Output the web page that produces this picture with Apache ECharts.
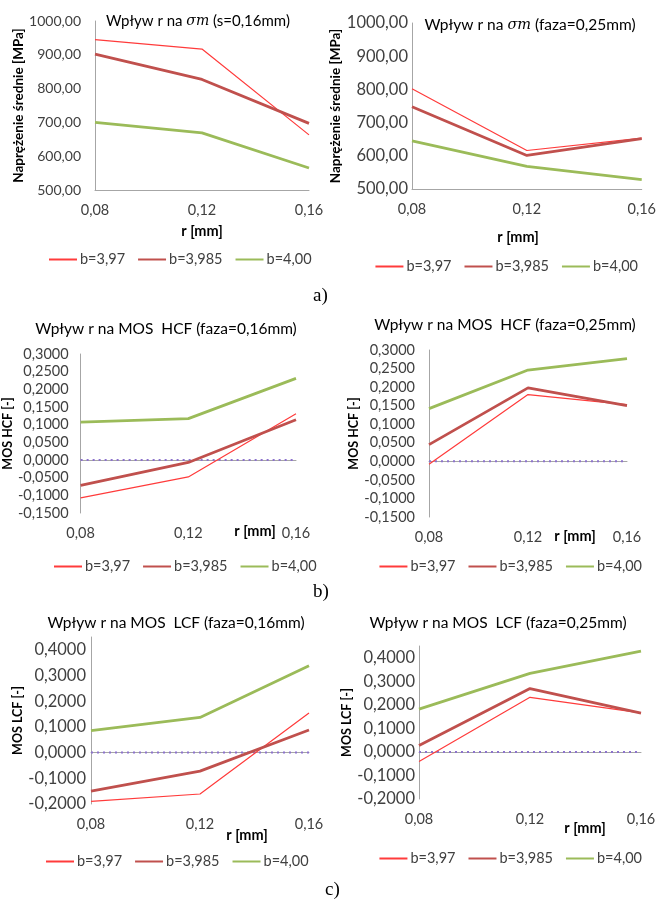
<!DOCTYPE html>
<html>
<head>
<meta charset="utf-8">
<script src="https://cdn.jsdelivr.net/npm/echarts@6/dist/echarts.min.js"></script>
<style>
  html, body { margin: 0; padding: 0; background: #ffffff; }
  #chart { width: 659px; height: 899px; }
</style>
</head>
<body>
<div id="chart"></div>
<script>
// ---- Data ----
const rCategories = ['0,08', '0,12', '0,16'];
const seriesNames = ['b=3,97', 'b=3,985', 'b=4,00'];

// a) sigma_m
const sigmaS016_b397  = [945, 917, 663];
const sigmaS016_b3985 = [902, 827, 697];
const sigmaS016_b400  = [700, 669, 565];
const sigmaF025_b397  = [802, 616, 653];
const sigmaF025_b3985 = [748, 601, 652];
const sigmaF025_b400  = [645, 568, 528];

// b) MOS HCF
const hcfF016_b397  = [-0.107, -0.048, 0.131];
const hcfF016_b3985 = [-0.072, -0.007, 0.114];
const hcfF016_b400  = [0.107, 0.117, 0.231];
const hcfF025_b397  = [-0.008, 0.180, 0.153];
const hcfF025_b3985 = [0.045, 0.198, 0.150];
const hcfF025_b400  = [0.142, 0.246, 0.277];

// c) MOS LCF
const lcfF016_b397  = [-0.190, -0.161, 0.154];
const lcfF016_b3985 = [-0.150, -0.072, 0.088];
const lcfF016_b400  = [0.086, 0.137, 0.338];
const lcfF025_b397  = [-0.041, 0.232, 0.166];
const lcfF025_b3985 = [0.027, 0.269, 0.165];
const lcfF025_b400  = [0.182, 0.334, 0.428];

const zeroLine = [0, 0, 0];

// ---- Styling ----
const FONT = 'Lato, "Noto Sans", sans-serif';
const TXT = '#404040';
const AXIS = '#A6A6A6';
const COLORS = ['#FF3B3B', '#C0504D', '#9BBB59'];
const WIDTHS = [1.2, 2.8, 2.8];

const panels = [
  { title: ['Wpływ r na ', 'σm', ' (s=0,16mm)'], tx: 198, ty: 21, ts: 15,
    grid: { left: 95, right: 350, top: 21, bottom: 709 },
    y: { min: 500, max: 1000, interval: 100, dec: 2, name: 'Naprężenie średnie [MPa]', gap: 66, lm: 14, fs: 14, ns: 13.5 },
    xName: [202, 231], legend: { left: 48, y: 260 },
    data: [sigmaS016_b397, sigmaS016_b3985, sigmaS016_b400], zero: false },
  { title: ['Wpływ r na ', 'σm', ' (faza=0,25mm)'], tx: 530, ty: 25, ts: 15.5,
    grid: { left: 412, right: 14, top: 23, bottom: 710 },
    y: { min: 500, max: 1000, interval: 100, dec: 2, name: 'Naprężenie średnie [MPa]', gap: 67, lm: 4, fs: 16.5, ns: 13.5 },
    xName: [518, 237], legend: { right: 21, y: 267 },
    data: [sigmaF025_b397, sigmaF025_b3985, sigmaF025_b400], zero: false },
  { title: ['Wpływ r na MOS  HCF (faza=0,16mm)'], tx: 166, ty: 329, ts: 15.5,
    grid: { left: 79, right: 363, top: 354, bottom: 386 },
    y: { min: -0.15, max: 0.3, interval: 0.05, dec: 4, name: 'MOS HCF [-]', gap: 58, lm: 12, fs: 14.5, ns: 12.5 },
    xName: [255, 531], legend: { left: 53, y: 567 },
    data: [hcfF016_b397, hcfF016_b3985, hcfF016_b400], zero: true },
  { title: ['Wpływ r na MOS  HCF (faza=0,25mm)'], tx: 505, ty: 325, ts: 15.5,
    grid: { left: 429, right: 32, top: 350, bottom: 382 },
    y: { min: -0.15, max: 0.3, interval: 0.05, dec: 4, name: 'MOS HCF [-]', gap: 66, lm: 14, fs: 14.5, ns: 12.5 },
    xName: [575, 536], legend: { right: 17, y: 567 },
    data: [hcfF025_b397, hcfF025_b3985, hcfF025_b400], zero: true },
  { title: ['Wpływ r na MOS  LCF (faza=0,16mm)'], tx: 176, ty: 623, ts: 15.5,
    grid: { left: 91, right: 350, top: 637, bottom: 95 },
    y: { min: -0.2, max: 0.45, interval: 0.1, dec: 4, name: 'MOS LCF [-]', gap: 62, lm: 5, fs: 16.5, ns: 12.5 },
    xName: [247, 835], legend: { left: 45, y: 862 },
    data: [lcfF016_b397, lcfF016_b3985, lcfF016_b400], zero: true },
  { title: ['Wpływ r na MOS  LCF (faza=0,25mm)'], tx: 498, ty: 623, ts: 15.5,
    grid: { left: 419, right: 18, top: 646, bottom: 100 },
    y: { min: -0.2, max: 0.45, interval: 0.1, dec: 4, name: 'MOS LCF [-]', gap: 66, lm: 4, fs: 16.5, ns: 12.5 },
    xName: [585, 828], legend: { right: 17, y: 859 },
    data: [lcfF025_b397, lcfF025_b3985, lcfF025_b400], zero: true }
];

const option = {
  backgroundColor: '#ffffff',
  animation: false,
  textStyle: { fontFamily: FONT },
  grid: [], xAxis: [], yAxis: [], series: [], legend: [], graphic: []
};

panels.forEach((p, i) => {
  option.grid.push(Object.assign({ containLabel: false }, p.grid));
  option.xAxis.push({
    type: 'category', gridIndex: i, data: rCategories, boundaryGap: false,
    axisLine: { lineStyle: { color: AXIS, width: 1 } },
    axisTick: { show: false },
    axisLabel: { color: TXT, fontSize: 14.5, fontFamily: FONT, margin: 13 },
    splitLine: { show: false }
  });
  option.yAxis.push({
    type: 'value', gridIndex: i, min: p.y.min, max: p.y.max, interval: p.y.interval,
    name: p.y.name, nameLocation: 'middle', nameGap: p.y.gap,
    nameTextStyle: { color: '#000000', fontWeight: 'bold', fontSize: p.y.ns, fontFamily: FONT },
    axisLine: { show: true, lineStyle: { color: AXIS, width: 1 } },
    axisTick: { show: false },
    splitLine: { show: false },
    axisLabel: {
      color: TXT, fontSize: p.y.fs, fontFamily: FONT, margin: p.y.lm, showMaxLabel: p.y.max !== 0.45,
      formatter: (v) => (Math.abs(v) < 1e-9 ? 0 : v).toFixed(p.y.dec).replace('.', ',')
    }
  });
  p.data.forEach((d, k) => {
    option.series.push({
      type: 'line', name: seriesNames[k], xAxisIndex: i, yAxisIndex: i, data: d,
      symbol: 'none', z: 3 + k,
      lineStyle: { color: COLORS[k], width: WIDTHS[k] },
      itemStyle: { color: COLORS[k] }
    });
  });
  if (p.zero) {
    option.series.push({
      type: 'line', name: 'zero', xAxisIndex: i, yAxisIndex: i, data: zeroLine,
      symbol: 'none', z: 2, silent: true,
      lineStyle: { color: '#8C72CC', width: 2, type: [2, 4] }
    });
  }
  const lg = {
    data: seriesNames, top: p.legend.y - 8,
    orient: 'horizontal', itemWidth: 28, itemHeight: 16, itemGap: 12, padding: 0,
    itemStyle: { opacity: 0, color: 'rgba(0,0,0,0)', borderWidth: 0 },
    textStyle: { color: TXT, fontSize: 14.5, fontFamily: FONT, padding: [0, 0, 0, -2] },
    selectedMode: false
  };
  if (p.legend.left !== undefined) lg.left = p.legend.left; else lg.right = p.legend.right;
  option.legend.push(lg);
  // title
  const rich = {
    n: { fontFamily: FONT, fontSize: p.ts, color: TXT },
    m: { fontFamily: '"DejaVu Serif", serif', fontStyle: 'italic', fontSize: p.ts - 1, color: TXT }
  };
  let txt;
  if (p.title.length === 3) {
    txt = '{n|' + p.title[0] + '}{m|' + p.title[1] + '}{n|' + p.title[2] + '}';
  } else {
    txt = '{n|' + p.title[0] + '}';
  }
  option.graphic.push({
    type: 'text', x: p.tx, y: p.ty, z: 10,
    style: { text: txt, rich: rich, align: 'center', verticalAlign: 'middle' }
  });
  option.graphic.push({
    type: 'text', x: p.xName[0], y: p.xName[1], z: 10,
    style: { text: 'r [mm]', fontFamily: FONT, fontSize: 14.5, fontWeight: 'bold', fill: '#000000',
             align: 'center', verticalAlign: 'middle' }
  });
});

const panelLabels = [['a)', 313, 296], ['b)', 313, 592], ['c)', 325, 890]];
panelLabels.forEach(l => {
  option.graphic.push({
    type: 'text', x: l[1], y: l[2], z: 10,
    style: { text: l[0], fontFamily: '"Liberation Serif", serif', fontSize: 19, fill: '#000000',
             align: 'left', verticalAlign: 'middle' }
  });
});

const chart = echarts.init(document.getElementById('chart'), null, { renderer: 'canvas' });
chart.setOption(option);
</script>
</body>
</html>
